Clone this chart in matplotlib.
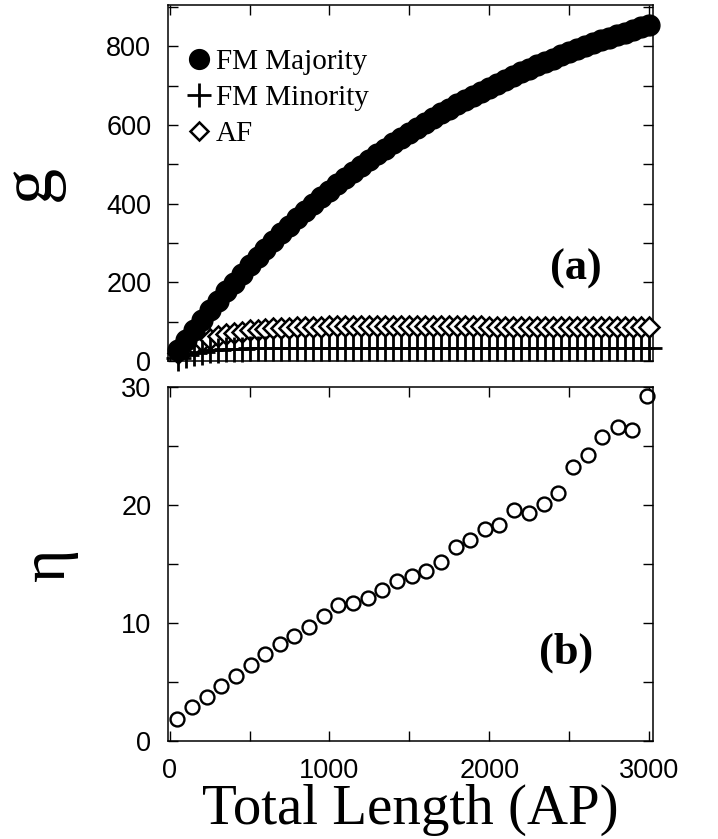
import matplotlib
matplotlib.use("Agg")
import matplotlib.pyplot as plt
from matplotlib.ticker import MultipleLocator

# ---- data ----
length_top = [50 * (i + 1) for i in range(60)]
fm_majority = [27, 54, 80, 105, 129, 153, 177, 199, 222, 243,
               264, 285, 305, 325, 344, 363, 381, 399, 416, 433,
               449, 465, 481, 496, 511, 526, 540, 554, 567, 580,
               593, 606, 618, 630, 641, 653, 664, 675, 685, 695,
               705, 715, 725, 734, 743, 752, 760, 769, 777, 785,
               793, 800, 808, 815, 822, 829, 835, 842, 848, 855]
fm_minority = [8, 15, 20, 24, 27, 29, 30, 31, 31, 32,
               32, 32, 32, 32, 32, 32, 32, 32, 32, 32,
               32, 32, 32, 32, 32, 32, 32, 32, 32, 32,
               32, 32, 32, 32, 32, 32, 32, 32, 32, 32,
               32, 32, 32, 32, 32, 32, 32, 32, 32, 32,
               32, 32, 32, 32, 32, 32, 32, 32, 32, 32]
af = [20, 32, 42, 50, 57, 63, 68, 72, 75, 78,
      80, 82, 83, 84, 85, 86, 86, 87, 87, 88,
      88, 88, 88, 88, 88, 88, 88, 88, 88, 88,
      88, 88, 88, 88, 88, 88, 88, 88, 88, 87,
      87, 87, 87, 87, 87, 87, 87, 86, 86, 86,
      86, 86, 86, 86, 86, 86, 86, 86, 86, 86]

length_eta = [48, 142, 231, 323, 417, 508, 600, 690, 781, 873,
              965, 1056, 1148, 1240, 1331, 1423, 1515, 1606, 1698, 1790,
              1879, 1971, 2063, 2156, 2248, 2342, 2433, 2525, 2617, 2708,
              2804, 2896, 2988]
eta = [1.9, 2.9, 3.7, 4.7, 5.5, 6.4, 7.4, 8.2, 8.9, 9.7,
       10.6, 11.5, 11.7, 12.1, 12.8, 13.6, 14.0, 14.4, 15.2, 16.4,
       17.0, 18.0, 18.3, 19.6, 19.3, 20.1, 21.0, 23.2, 24.2, 25.8,
       26.6, 26.4, 29.2]

top_yticks = [0, 200, 400, 600, 800]
bot_yticks = [0, 10, 20, 30]
xticks = [0, 1000, 2000, 3000]

serif = ["Liberation Serif", "DejaVu Serif"]
sans = ["Liberation Sans", "DejaVu Sans"]

fig = plt.figure(figsize=(7.18, 8.39), dpi=100)
ax1 = fig.add_axes([0.234, 0.5697, 0.6755, 0.4243])
ax2 = fig.add_axes([0.234, 0.1168, 0.6755, 0.4219])

for ax in (ax1, ax2):
    ax.set_xlim(-10, 3025)
    ax.xaxis.set_major_locator(MultipleLocator(1000))
    ax.xaxis.set_minor_locator(MultipleLocator(500))
    ax.tick_params(which="both", direction="in", top=True, right=True,
                   width=1.0, labelsize=19.5, pad=12)
    ax.tick_params(which="major", length=7)
    ax.tick_params(which="minor", length=7)
    for sp in ax.spines.values():
        sp.set_linewidth(1.1)
    for lab in ax.get_xticklabels() + ax.get_yticklabels():
        lab.set_family(sans)

# top panel
ax1.plot(length_top, af, linestyle="none", marker="D", ms=10, mfc="white",
         mec="black", mew=1.8, label="AF", clip_on=False, zorder=3)
ax1.plot(length_top, fm_minority, linestyle="none", marker="+", ms=18,
         mec="black", mew=2.0, label="FM Minority", clip_on=False, zorder=4)
ax1.plot(length_top, fm_majority, linestyle="none", marker="o", ms=15,
         mfc="black", mec="black", label="FM Majority", clip_on=False, zorder=5)
ax1.set_ylim(0, 905)
ax1.set_yticks(top_yticks)
ax1.yaxis.set_minor_locator(MultipleLocator(100))
ax1.tick_params(axis="x", labelbottom=False)
ax1.set_ylabel("g", family=serif, fontsize=52)
ax1.yaxis.set_label_coords(-0.215, 0.5)
handles, labels = ax1.get_legend_handles_labels()
order = [2, 1, 0]
leg = ax1.legend([handles[i] for i in order], [labels[i] for i in order],
                 loc="upper left", bbox_to_anchor=(0.0, 0.935), frameon=False,
                 prop={"family": serif, "size": 21}, handlelength=0.7,
                 handletextpad=0.25, labelspacing=0.33, borderaxespad=0.3,
                 markerscale=0.95)
ax1.text(0.84, 0.26, "(a)", transform=ax1.transAxes, family=serif,
         fontsize=32, fontweight="bold", ha="center", va="center")

# bottom panel
ax2.plot(length_eta, eta, linestyle="none", marker="o", ms=10, mfc="white",
         mec="black", mew=1.7, clip_on=False)
ax2.set_ylim(0, 30)
ax2.set_yticks(bot_yticks)
ax2.yaxis.set_minor_locator(MultipleLocator(5))
ax2.set_xticks(xticks)
ax2.set_ylabel("\u03b7", family=serif, fontsize=46)
ax2.yaxis.set_label_coords(-0.185, 0.5)
ax2.set_xlabel("Total Length (AP)", family=serif, fontsize=41, labelpad=0)
ax2.text(0.82, 0.25, "(b)", transform=ax2.transAxes, family=serif,
         fontsize=32, fontweight="bold", ha="center", va="center")

fig.savefig("out.png", dpi=100)
